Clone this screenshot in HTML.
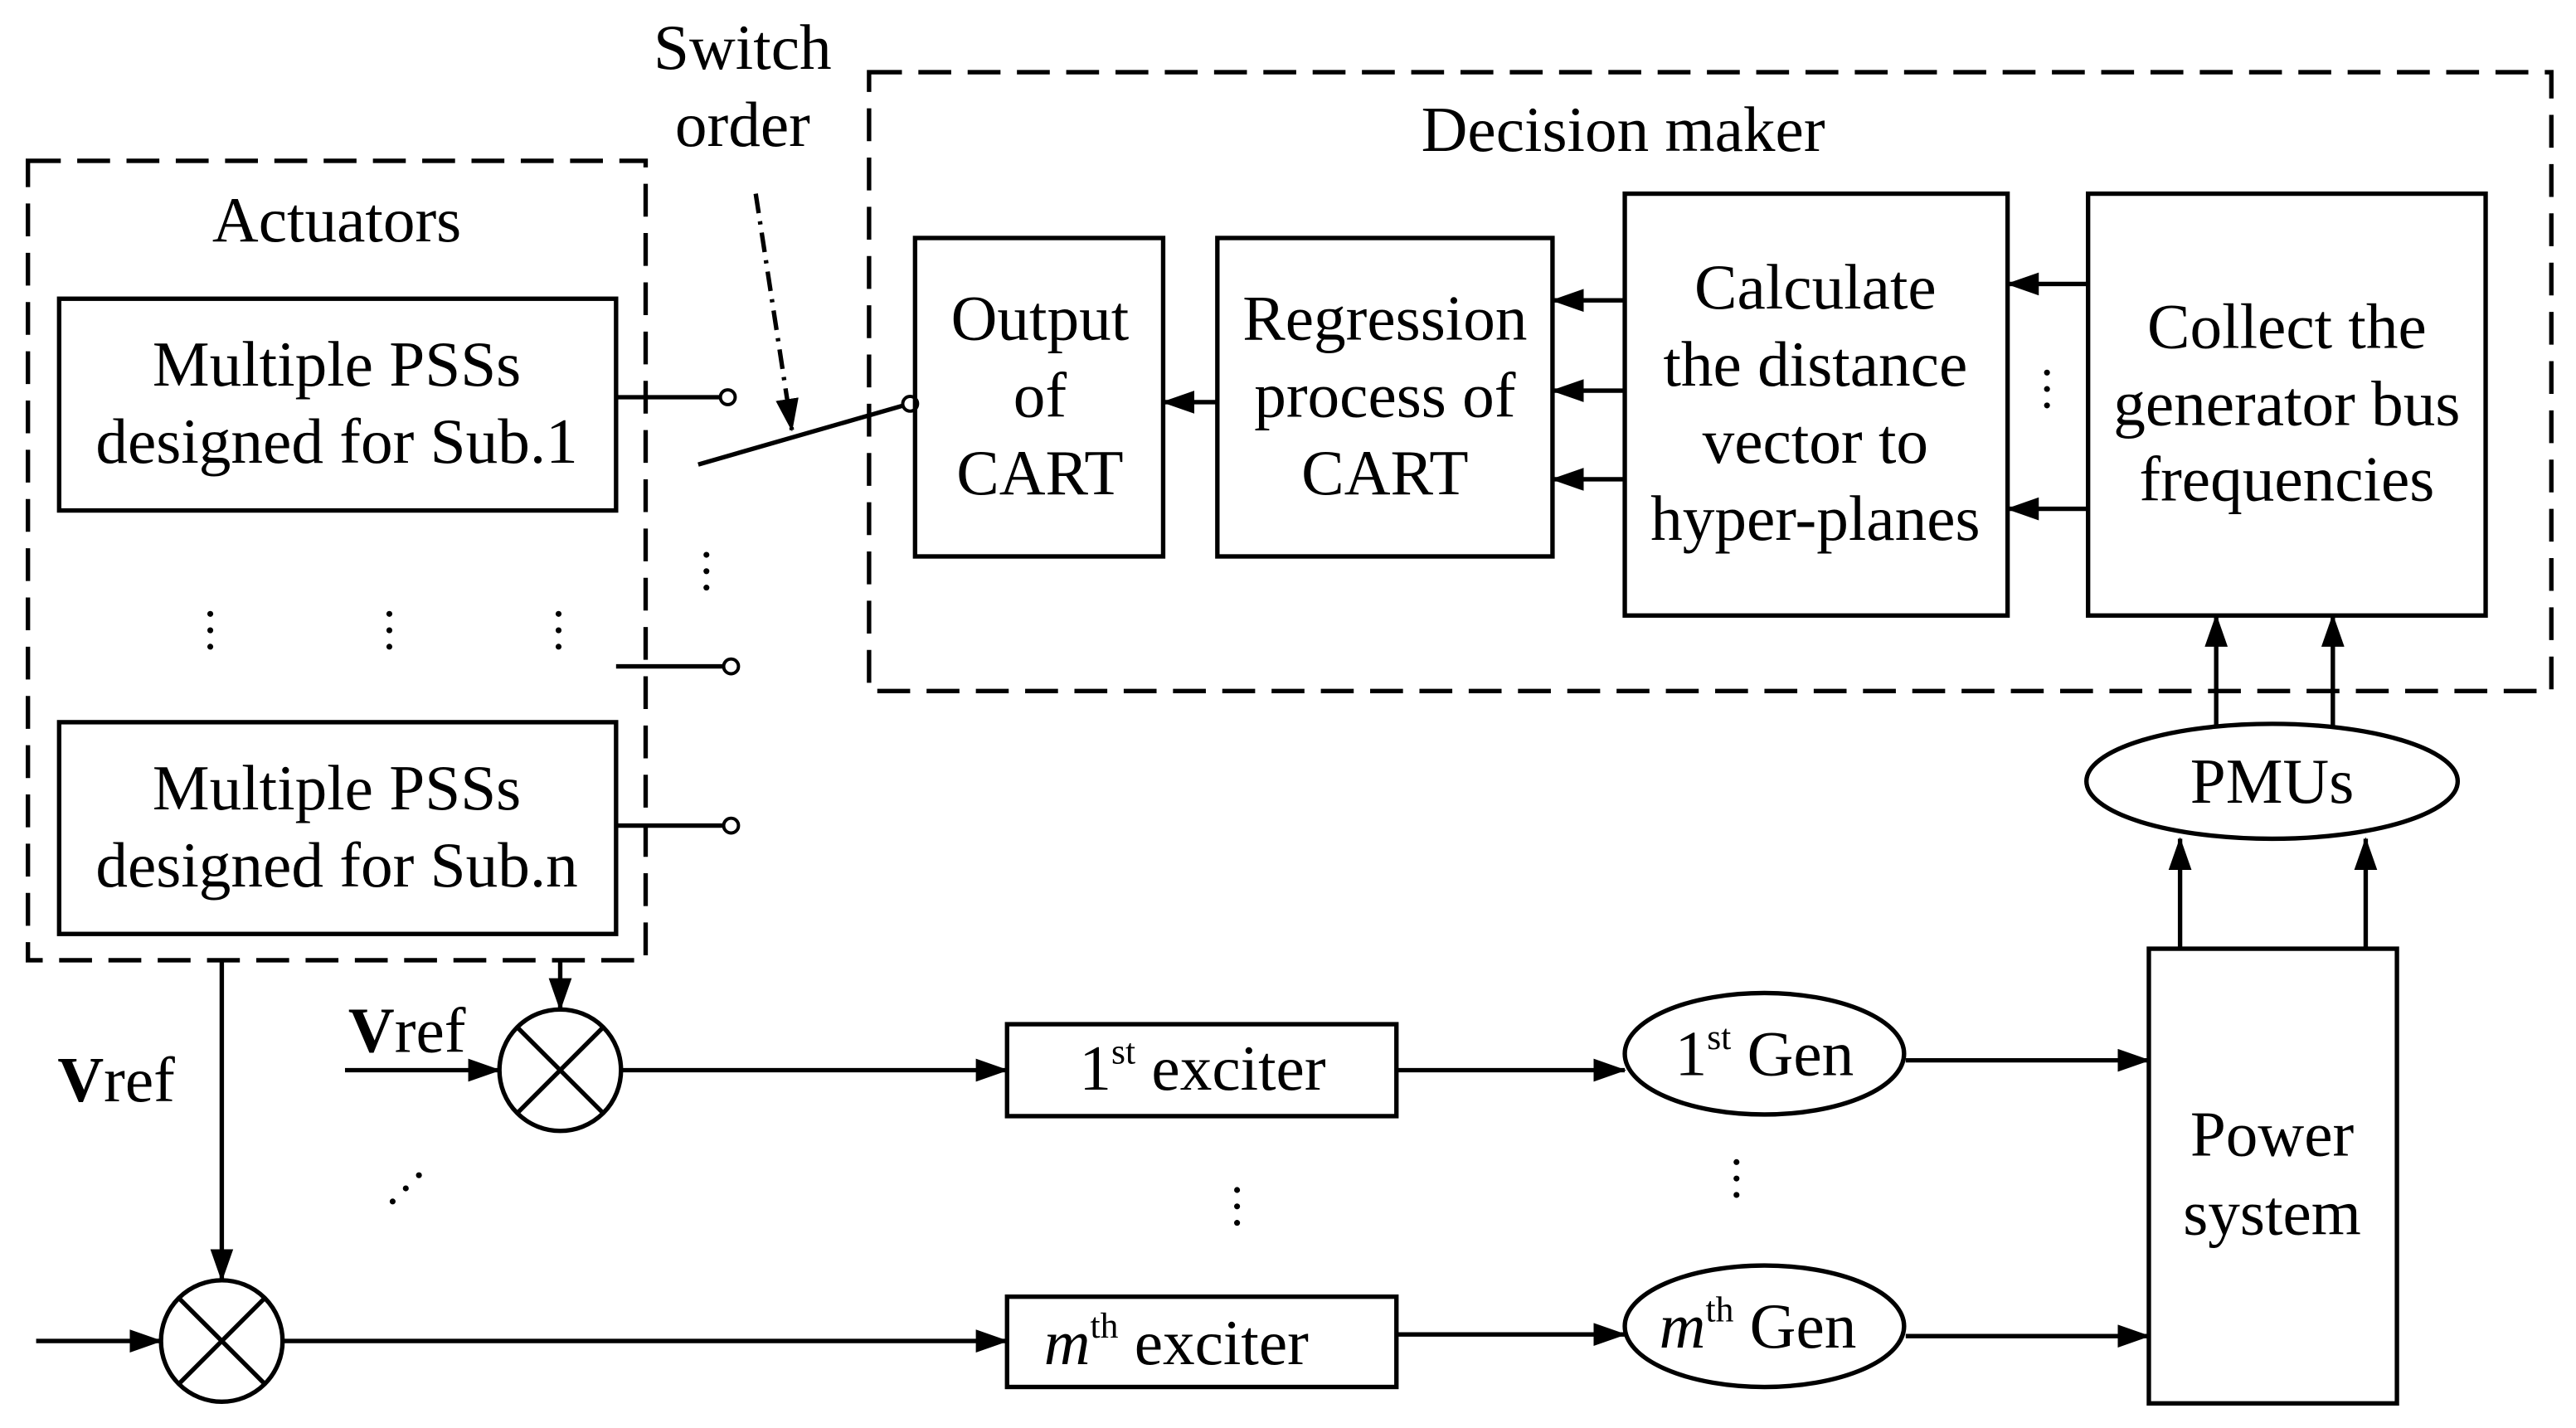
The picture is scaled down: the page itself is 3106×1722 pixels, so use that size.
<!DOCTYPE html>
<html><head><meta charset="utf-8">
<style>
html,body{margin:0;padding:0;background:#fff;}
svg{display:block;}
text{font-family:"Liberation Serif",serif;font-size:39px;fill:#000;}
</style></head><body>
<svg width="3106" height="1722" viewBox="0 0 1568 870" preserveAspectRatio="none" xmlns="http://www.w3.org/2000/svg">
<defs>
<marker id="b" markerWidth="20" markerHeight="14" refX="19" refY="7" orient="auto" markerUnits="userSpaceOnUse" viewBox="0 0 20 14">
<path d="M0,0 L20,7 L0,14 z" fill="#000"/></marker>
</defs>
<g fill="none" stroke="#000" stroke-width="2.7">
<rect x="17" y="98" width="376" height="487" stroke-dasharray="20 10"/>
<rect x="529" y="44" width="1024" height="377" stroke-dasharray="20 10"/>
<rect x="36" y="182" width="339" height="129"/>
<rect x="36" y="440" width="339" height="129"/>
<rect x="557" y="145" width="151" height="194"/>
<rect x="741" y="145" width="204" height="194"/>
<rect x="989" y="118" width="233" height="257"/>
<rect x="1271" y="118" width="242" height="257"/>
<ellipse cx="1383" cy="476" rx="113" ry="35"/>
<rect x="1308" y="578" width="151" height="277"/>
<rect x="613" y="624" width="237" height="56"/>
<rect x="613" y="790" width="237" height="55"/>
<ellipse cx="1074" cy="642" rx="85" ry="37"/>
<ellipse cx="1074" cy="808" rx="85" ry="37"/>
<circle cx="341" cy="652" r="37"/>
<line x1="315" y1="626" x2="367" y2="678"/><line x1="367" y1="626" x2="315" y2="678"/>
<circle cx="135" cy="817" r="37"/>
<line x1="109" y1="791" x2="161" y2="843"/><line x1="161" y1="791" x2="109" y2="843"/>
<line x1="375" y1="242" x2="438" y2="242"/>
<line x1="375" y1="406" x2="440" y2="406"/>
<line x1="375" y1="503" x2="440" y2="503"/>
<circle cx="443" cy="242" r="4.5" stroke-width="2"/>
<circle cx="445" cy="406" r="4.5" stroke-width="2"/>
<circle cx="445" cy="503" r="4.5" stroke-width="2"/>
<circle cx="554" cy="246" r="4.5" stroke-width="2"/>
<line x1="425" y1="283" x2="550" y2="247"/>
<line x1="460" y1="118" x2="482" y2="262" stroke-dasharray="12 5 2 5" marker-end="url(#b)"/>
<line x1="741" y1="245" x2="708" y2="245" marker-end="url(#b)"/>
<line x1="989" y1="183" x2="945" y2="183" marker-end="url(#b)"/>
<line x1="989" y1="238" x2="945" y2="238" marker-end="url(#b)"/>
<line x1="989" y1="292" x2="945" y2="292" marker-end="url(#b)"/>
<line x1="1271" y1="173" x2="1222" y2="173" marker-end="url(#b)"/>
<line x1="1271" y1="310" x2="1222" y2="310" marker-end="url(#b)"/>
<line x1="1349" y1="442" x2="1349" y2="375" marker-end="url(#b)"/>
<line x1="1420" y1="442" x2="1420" y2="375" marker-end="url(#b)"/>
<line x1="1327" y1="578" x2="1327" y2="511" marker-end="url(#b)"/>
<line x1="1440" y1="578" x2="1440" y2="511" marker-end="url(#b)"/>
<line x1="341" y1="585" x2="341" y2="615" marker-end="url(#b)"/>
<line x1="135" y1="585" x2="135" y2="780" marker-end="url(#b)"/>
<line x1="210" y1="652" x2="304" y2="652" marker-end="url(#b)"/>
<line x1="22" y1="817" x2="98" y2="817" marker-end="url(#b)"/>
<line x1="378" y1="652" x2="613" y2="652" marker-end="url(#b)"/>
<line x1="172" y1="817" x2="613" y2="817" marker-end="url(#b)"/>
<line x1="850" y1="652" x2="989" y2="652" marker-end="url(#b)"/>
<line x1="850" y1="813" x2="989" y2="813" marker-end="url(#b)"/>
<line x1="1160" y1="646" x2="1308" y2="646" marker-end="url(#b)"/>
<line x1="1160" y1="814" x2="1308" y2="814" marker-end="url(#b)"/>
</g>
<g fill="#000">
<circle cx="128" cy="374" r="1.8"/><circle cx="128" cy="384" r="1.8"/><circle cx="128" cy="394" r="1.8"/>
<circle cx="237" cy="374" r="1.8"/><circle cx="237" cy="384" r="1.8"/><circle cx="237" cy="394" r="1.8"/>
<circle cx="340" cy="374" r="1.8"/><circle cx="340" cy="384" r="1.8"/><circle cx="340" cy="394" r="1.8"/>
<circle cx="430" cy="338" r="1.8"/><circle cx="430" cy="348" r="1.8"/><circle cx="430" cy="358" r="1.8"/>
<circle cx="1246" cy="227" r="1.8"/><circle cx="1246" cy="237" r="1.8"/><circle cx="1246" cy="247" r="1.8"/>
<circle cx="753" cy="725" r="1.8"/><circle cx="753" cy="735" r="1.8"/><circle cx="753" cy="745" r="1.8"/>
<circle cx="1057" cy="708" r="1.8"/><circle cx="1057" cy="718" r="1.8"/><circle cx="1057" cy="728" r="1.8"/>
<circle cx="239" cy="732" r="1.8"/><circle cx="247" cy="724" r="1.8"/><circle cx="255" cy="716" r="1.8"/>
</g>
<g text-anchor="middle">
<text x="452" y="42">Switch</text>
<text x="452" y="89">order</text>
<text x="205" y="147">Actuators</text>
<text x="988" y="92">Decision maker</text>
<text x="205" y="235">Multiple PSSs</text>
<text x="205" y="282">designed for Sub.1</text>
<text x="205" y="493">Multiple PSSs</text>
<text x="205" y="540">designed for Sub.n</text>
<text x="633" y="207">Output</text>
<text x="633" y="254">of</text>
<text x="633" y="301">CART</text>
<text x="843" y="207">Regression</text>
<text x="843" y="254">process of</text>
<text x="843" y="301">CART</text>
<text x="1105" y="188">Calculate</text>
<text x="1105" y="235">the distance</text>
<text x="1105" y="282">vector to</text>
<text x="1105" y="329">hyper-planes</text>
<text x="1392" y="212">Collect the</text>
<text x="1392" y="259">generator bus</text>
<text x="1392" y="305">frequencies</text>
<text x="1383" y="489">PMUs</text>
<text x="1383" y="704">Power</text>
<text x="1383" y="752">system</text>
<text x="732" y="664">1<tspan font-size="22" dy="-16">st</tspan><tspan dy="16"> exciter</tspan></text>
<text x="716" y="831"><tspan font-style="italic">m</tspan><tspan font-size="22" dy="-16">th</tspan><tspan dy="16"> exciter</tspan></text>
<text x="1074" y="655">1<tspan font-size="22" dy="-16">st</tspan><tspan dy="16"> Gen</tspan></text>
<text x="1070" y="821"><tspan font-style="italic">m</tspan><tspan font-size="22" dy="-16">th</tspan><tspan dy="16"> Gen</tspan></text>
</g>
<text x="212" y="641"><tspan font-weight="bold">V</tspan>ref</text>
<text x="35" y="671"><tspan font-weight="bold">V</tspan>ref</text>
</svg>
</body></html>
